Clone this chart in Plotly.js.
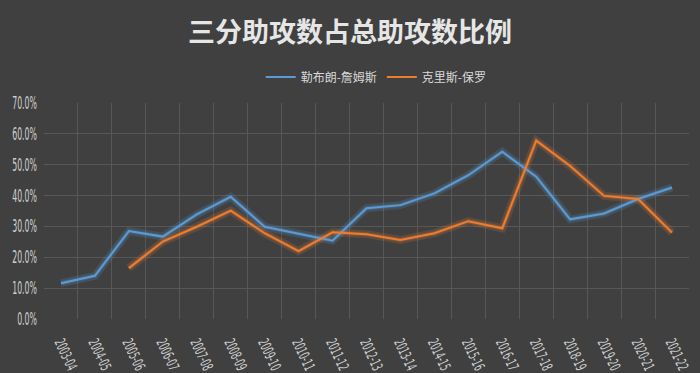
<!DOCTYPE html>
<html><head><meta charset="utf-8">
<script src="https://cdn.plot.ly/plotly-3.0.1.min.js"></script>
<style>html,body{margin:0;padding:0;background:#404040;}#chart{width:700px;height:373px;}</style>
</head><body><div id="chart"></div>
<script>
const seasons = ["2003-04","2004-05","2005-06","2006-07","2007-08","2008-09","2009-10","2010-11","2011-12","2012-13","2013-14","2014-15","2015-16","2016-17","2017-18","2018-19","2019-20","2020-21","2021-22"];
const lebron = [11.6,14.0,28.5,26.7,33.9,39.6,29.9,27.6,25.4,35.9,36.9,40.7,46.6,54.2,46.1,32.3,34.2,38.9,42.6];
const paul = [null,null,16.5,25.1,29.9,35.1,27.8,22.0,28.1,27.5,25.6,27.8,31.7,29.4,57.8,49.6,39.9,38.9,28.0];
const names = ["勒布朗-詹姆斯","克里斯-保罗"];
const colors = ["#5b9bd5","#ed7d31"];
const series = [lebron, paul];

const traces = [];
series.forEach((s,i)=>{
  traces.push({x:seasons,y:s.map(v=>v==null?null:v/100),type:'scatter',mode:'lines',
    line:{color:colors[i],width:8},opacity:0.18,showlegend:false,hoverinfo:'skip'});
  traces.push({x:seasons,y:s.map(v=>v==null?null:v/100),type:'scatter',mode:'lines',
    line:{color:colors[i],width:4},opacity:0.25,showlegend:false,hoverinfo:'skip'});
});
series.forEach((s,i)=>{
  traces.push({x:seasons,y:s.map(v=>v==null?null:v/100),type:'scatter',mode:'lines',name:names[i],
    line:{color:colors[i],width:2}});
});

const tickFamily = '"DejaVu Sans", sans-serif';
const layout = {
  width:700,height:373,
  paper_bgcolor:'#404040',plot_bgcolor:'#404040',
  margin:{l:44,r:11,t:103,b:54},
  title:{text:'三分助攻数占总助攻数比例',x:0.5,xanchor:'center',y:0.914,yanchor:'middle',yref:'container',
    font:{family:'"Noto Sans CJK SC", sans-serif',size:27,color:'#e6e6e6',weight:'bold'}},
  showlegend:true,
  legend:{orientation:'h',x:0.515,xanchor:'center',y:1.12,yanchor:'middle',
    font:{family:'"Noto Sans CJK SC", sans-serif',size:12,color:'#d9d9d9'},itemwidth:30,tracegroupgap:0,bgcolor:'rgba(0,0,0,0)'},
  xaxis:{type:'category',range:[-0.5,18.5],tickson:'boundaries',showgrid:true,gridcolor:'#575757',gridwidth:1,
    zeroline:false,showline:false,ticks:'',tickangle:65,ticklabelstandoff:11,
    tickfont:{family:tickFamily,size:15,color:'#d0d0d0'}},
  yaxis:{range:[0,0.7],dtick:0.1,tickformat:'.1%',showgrid:true,gridcolor:'#575757',gridwidth:1,
    zeroline:false,showline:false,ticks:'',ticklabelstandoff:6,
    tickfont:{family:tickFamily,size:17,color:'#d0d0d0'}}
};
function condenseSel(gd, sel, f){
  gd.querySelectorAll(sel).forEach(t=>{
    const x = parseFloat(t.getAttribute('x'))||0, y = parseFloat(t.getAttribute('y'))||0;
    const tr = t.getAttribute('transform')||'';
    t.setAttribute('transform', tr+' translate('+x+','+y+') scale('+f+',1) translate('+(-x)+','+(-y)+')');
  });
}
Plotly.newPlot('chart',traces,layout,{displayModeBar:false,staticPlot:true}).then(gd=>{
  condenseSel(gd,'.xtick text',0.53);
  condenseSel(gd,'.ytick text',0.46);
});
</script></body></html>
